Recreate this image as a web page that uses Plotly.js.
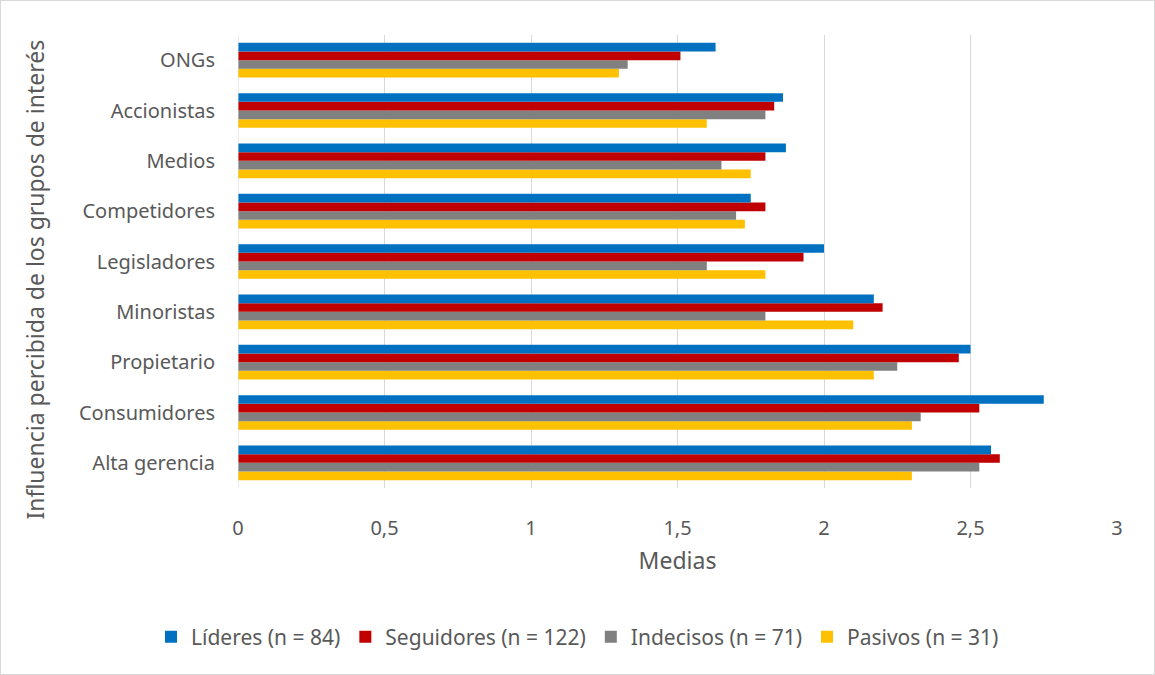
<!DOCTYPE html>
<html>
<head>
<meta charset="utf-8">
<script src="https://cdn.plot.ly/plotly-3.0.1.min.js"></script>
<style>
  html, body { margin: 0; padding: 0; background: #fff; }
  #chart { width: 1153px; height: 673px; border: 1px solid #d9d9d9; }
</style>
</head>
<body>
<div id="chart"></div>
<script>
// Categories listed bottom to top
const categories = ["Alta gerencia", "Consumidores", "Propietario", "Minoristas", "Legisladores",
                    "Competidores", "Medios", "Accionistas", "ONGs"];
const lideres    = [2.57, 2.75, 2.50, 2.17, 2.00, 1.75, 1.87, 1.86, 1.63];
const seguidores = [2.60, 2.53, 2.46, 2.20, 1.93, 1.80, 1.80, 1.83, 1.51];
const indecisos  = [2.53, 2.33, 2.25, 1.80, 1.60, 1.70, 1.65, 1.80, 1.33];
const pasivos    = [2.30, 2.30, 2.17, 2.10, 1.80, 1.73, 1.75, 1.60, 1.30];
const seriesNames = ["Líderes (n = 84)", "Seguidores (n = 122)", "Indecisos (n = 71)", "Pasivos (n = 31)"];
const xTickVals = [0, 0.5, 1, 1.5, 2, 2.5, 3];
const xTickText = ["0", "0,5", "1", "1,5", "2", "2,5", "3"];

const colors = ["#0070C0", "#C00000", "#808080", "#FFC000"];
const values = [lideres, seguidores, indecisos, pasivos];

// Add in reverse order so Líderes sits on top inside each group
const traces = [];
for (let i = values.length - 1; i >= 0; i--) {
  traces.push({
    type: "bar",
    orientation: "h",
    name: seriesNames[i],
    x: values[i],
    y: categories,
    marker: { color: colors[i] },
    hoverinfo: "x+name"
  });
}

const font = { family: "Noto Sans, Open Sans, sans-serif", color: "#595959" };

const layout = {
  width: 1153,
  height: 673,
  margin: { l: 237, r: 37, t: 34, b: 186 },
  paper_bgcolor: "#ffffff",
  plot_bgcolor: "#ffffff",
  barmode: "group",
  bargap: 0.31,
  bargroupgap: 0,
  font: Object.assign({ size: 20 }, font),
  showlegend: true,
  legend: {
    orientation: "h",
    traceorder: "reversed",
    xref: "container",
    yref: "container",
    x: 0.5,
    xanchor: "center",
    y: 0.055,
    yanchor: "middle",
    font: Object.assign({ size: 21 }, font),
    itemwidth: 30
  },
  xaxis: {
    range: [0, 3],
    tickvals: xTickVals,
    ticktext: xTickText,
    showgrid: true,
    gridcolor: "#d9d9d9",
    gridwidth: 1,
    zeroline: false,
    showline: false,
    ticks: "",
    ticklen: 0,
    ticklabelstandoff: 26,
    tickfont: Object.assign({ size: 20 }, font),
    title: { text: "Medias", font: Object.assign({ size: 23 }, font), standoff: 12 }
  },
  yaxis: {
    type: "category",
    showgrid: false,
    zeroline: false,
    showline: false,
    ticks: "",
    ticklen: 0,
    tickfont: Object.assign({ size: 20 }, font),
    ticklabelstandoff: 22,
    title: { text: "" }
  },
  shapes: [{
    type: "line", xref: "x", yref: "paper",
    x0: 0, x1: 0, y0: 0, y1: 1,
    line: { color: "#d9d9d9", width: 1 }
  }],
  annotations: [{
    text: "Influencia percibida de los grupos de interés",
    xref: "paper", yref: "paper",
    x: -0.231, y: 0.46,
    xanchor: "center", yanchor: "middle",
    textangle: -90,
    showarrow: false,
    font: Object.assign({ size: 23 }, font)
  }]
};

Plotly.newPlot("chart", traces, layout, { displayModeBar: false, responsive: false });
</script>
</body>
</html>
